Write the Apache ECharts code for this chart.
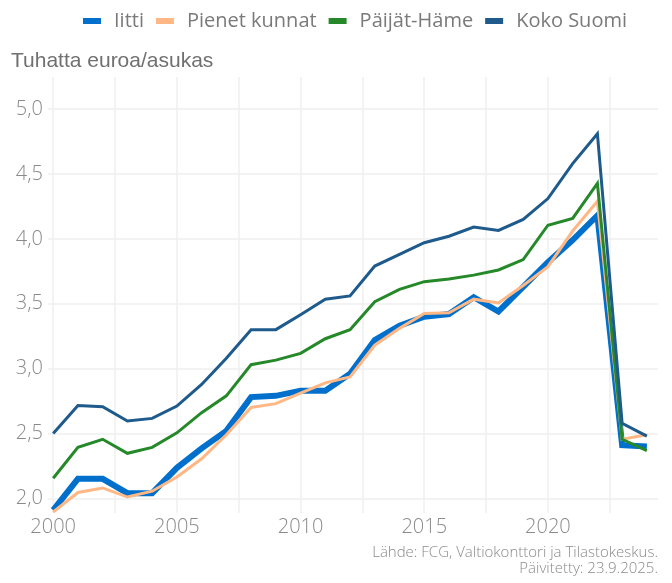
<!DOCTYPE html>
<html>
<head>
<meta charset="utf-8">
<script src="https://cdn.jsdelivr.net/npm/echarts@6/dist/echarts.min.js"></script>
<style>html,body{margin:0;padding:0;background:#fff}#c{width:672px;height:583px}</style>
</head>
<body>
<div id="c"></div>
<script>
var years = [2000,2001,2002,2003,2004,2005,2006,2007,2008,2009,2010,2011,2012,2013,2014,2015,2016,2017,2018,2019,2020,2021,2022,2023,2024];
var iitti = [1.91,2.15,2.15,2.04,2.04,2.235,2.385,2.52,2.78,2.79,2.83,2.83,2.96,3.22,3.33,3.40,3.42,3.55,3.44,3.63,3.82,3.99,4.18,2.41,2.40];
var pienetKunnat = [1.895,2.045,2.08,2.01,2.055,2.165,2.305,2.49,2.70,2.73,2.81,2.89,2.935,3.18,3.31,3.425,3.43,3.535,3.505,3.64,3.785,4.06,4.29,2.455,2.49];
var paijatHame = [2.155,2.393,2.455,2.347,2.393,2.505,2.66,2.79,3.03,3.065,3.117,3.23,3.30,3.515,3.61,3.67,3.69,3.72,3.76,3.84,4.105,4.157,4.427,2.455,2.367];
var kokoSuomi = [2.50,2.716,2.706,2.596,2.616,2.711,2.878,3.08,3.30,3.30,3.415,3.535,3.56,3.79,3.88,3.97,4.02,4.09,4.065,4.15,4.31,4.58,4.81,2.578,2.48];
var seriesNames = ['Iitti','Pienet kunnat','Päijät-Häme','Koko Suomi'];
var yTicks = [2.0,2.5,3.0,3.5,4.0,4.5,5.0];
var xLabelTicks = [2000,2005,2010,2015,2020];
var xGridTicks = [2000,2002.5,2005,2007.5,2010,2012.5,2015,2017.5,2020,2022.5];
var yTitle = 'Tuhatta euroa/asukas';
var sourceLines = ['Lähde: FCG, Valtiokonttori ja Tilastokeskus.','Päivitetty: 23.9.2025.'];

function pairs(vals){ return years.map(function(y,i){ return [y, vals[i]]; }); }

var colors = ['#0070CC','#FFB885','#25892A','#1E5A8C'];
var widths = [6,3,3,3];
var dataSets = [iitti, pienetKunnat, paijatHame, kokoSuomi];

var FONT = 'Open Sans';
var chart = echarts.init(document.getElementById('c'), null, {renderer:'canvas'});
var gridColor = '#EFEFEF';
var txtColor = '#8A8A8A';
chart.setOption({
  backgroundColor:'#fff',
  animation:false,
  textStyle:{fontFamily:FONT},
  legend:{
    data: seriesNames,
    top: 6, left: 78,
    icon:'rect', itemWidth:18, itemHeight:6, itemGap:12,
    textStyle:{fontFamily:FONT, fontWeight:400, fontSize:20, color:'#7A7A7A', padding:[0,0,0,8]}
  },
  title:{
    text: yTitle, left: 6, top: 46,
    textStyle:{fontFamily:'Liberation Sans', fontSize:21, fontWeight:'normal', color:'#707070'}
  },
  graphic:[{
    type:'text', right: 14, bottom: 6,
    style:{text: sourceLines.join('\n'), font:'300 15px "Open Sans"', fill: txtColor, textAlign:'right', lineHeight:16.5}
  }],
  grid:{left:48, right:14, top:77, bottom:70, containLabel:false},
  xAxis:{
    type:'value', min:1999.79, max:2024.45,
    axisLine:{show:false},
    axisTick:{show:false, customValues: xGridTicks},
    axisLabel:{customValues: xLabelTicks, color: txtColor, fontSize:20, fontWeight:300, fontFamily:FONT, margin:4,
      formatter:function(v){ return String(Math.round(v)); }},
    splitLine:{show:true, lineStyle:{color:gridColor, width:1.5}}
  },
  yAxis:{
    type:'value', min:1.887, max:5.247,
    axisLine:{show:false},
    axisTick:{show:false, customValues: yTicks},
    axisLabel:{customValues: yTicks, color: txtColor, fontSize:20, fontWeight:300, fontFamily:FONT, margin:5,
      formatter:function(v){ return v.toFixed(1).replace('.',','); }},
    splitLine:{show:true, lineStyle:{color:gridColor, width:1.5}}
  },
  series: seriesNames.map(function(n,i){
    return {
      name:n, type:'line', data: pairs(dataSets[i]),
      showSymbol:false, symbol:'none', z: 2+i,
      itemStyle:{color: colors[i]},
      lineStyle:{color: colors[i], width: widths[i], join:'miter'}
    };
  })
});
</script>
</body>
</html>
